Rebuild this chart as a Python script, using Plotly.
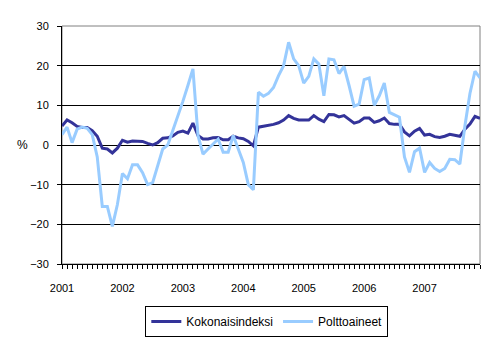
import plotly.graph_objects as go

# Monthly annual change (%), January 2001 - December 2007
years = ["2001", "2002", "2003", "2004", "2005", "2006", "2007"]

kokonaisindeksi = [
    4.8, 6.3, 5.6, 4.7, 4.4, 4.4, 3.6, 2.2, -0.8, -1.0, -2.0, -0.8,
    1.2, 0.7, 1.0, 1.0, 0.9, 0.4, 0.0, 0.6, 1.7, 1.8, 2.3, 3.2,
    3.5, 3.0, 5.5, 2.4, 1.5, 1.5, 1.8, 1.9, 1.3, 1.3, 2.2, 1.8,
    1.6, 0.9, -0.2, 4.5, 4.7, 4.9, 5.2, 5.6, 6.3, 7.4, 6.7, 6.3,
    6.3, 6.3, 7.4, 6.5, 5.9, 7.7, 7.6, 7.1, 7.4, 6.4, 5.5, 5.9,
    6.8, 6.8, 5.7, 6.1, 6.8, 5.4, 5.2, 5.2, 3.3, 2.3, 3.5, 4.2,
    2.5, 2.7, 2.1, 1.9, 2.2, 2.7, 2.5, 2.2, 4.0, 5.3, 7.2, 6.7,
]

polttoaineet = [
    2.6, 4.5, 0.6, 4.0, 4.5, 4.2, 2.6, -3.0, -15.5, -15.5, -20.5, -15.0,
    -7.2, -8.5, -5.0, -5.0, -7.0, -10.0, -9.5, -5.0, -1.0, 0.0, 3.5, 7.0,
    11.0, 15.0, 19.2, 2.4, -2.3, -1.0, 0.3, 1.5, -1.8, -1.8, 2.4, -1.0,
    -4.4, -10.0, -11.3, 13.3, 12.3, 13.0, 14.5, 17.5, 20.0, 25.9, 21.7, 20.0,
    15.6, 17.3, 21.7, 20.4, 12.4, 21.7, 21.5, 18.0, 19.8, 15.0, 9.8, 10.3,
    16.5, 16.9, 10.0, 12.4, 15.6, 8.2, 7.6, 7.0, -3.0, -6.9, -1.7, -0.8,
    -6.9, -4.4, -5.9, -6.7, -5.9, -3.6, -3.7, -4.8, 4.8, 13.0, 18.6, 16.9,
]

months = list(range(len(kokonaisindeksi)))
year_ticks = [12 * k for k in range(len(years))]

font = "Liberation Sans, Arial, sans-serif"

fig = go.Figure()
fig.add_trace(go.Scatter(
    x=months, y=kokonaisindeksi, mode="lines", name="Kokonaisindeksi",
    line=dict(color="#333399", width=3),
))
fig.add_trace(go.Scatter(
    x=months, y=polttoaineet, mode="lines", name="Polttoaineet",
    line=dict(color="#99CCFF", width=3),
))

# grey frame on top/right of the plot area
fig.add_shape(type="rect", xref="paper", yref="paper", x0=0, y0=0, x1=1, y1=1,
              line=dict(color="#808080", width=1), layer="below")

fig.update_layout(
    width=495, height=338,
    margin=dict(l=62, r=15, t=26, b=74, autoexpand=False),
    paper_bgcolor="white", plot_bgcolor="white",
    font=dict(family=font, size=11, color="black"),
    showlegend=True,
    legend=dict(
        orientation="h", x=0.49, xanchor="center",
        yref="container", y=0.095, yanchor="top",
        bordercolor="black", borderwidth=1, font=dict(size=12),
        itemwidth=30, tracegroupgap=0,
    ),
    annotations=[dict(
        text="%", xref="paper", yref="y", x=-0.095, y=0, xanchor="center",
        yanchor="middle", showarrow=False, font=dict(size=12),
    )],
)

fig.update_xaxes(
    range=[0, len(months) - 1], automargin=False,
    tickmode="array", tickvals=year_ticks, ticktext=years,
    ticks="outside", ticklen=4, tickcolor="black", ticklabelstandoff=10,
    minor=dict(dtick=1, tick0=0, ticks="outside", ticklen=4, tickcolor="black", showgrid=False),
    showline=True, linecolor="black", linewidth=1,
    showgrid=False, zeroline=False, tickfont=dict(size=11),
)
fig.update_yaxes(
    range=[-30, 30], dtick=10, tick0=-30, automargin=False,
    ticks="outside", ticklen=4, tickcolor="black", ticklabelstandoff=6,
    showline=True, linecolor="black", linewidth=1,
    showgrid=True, gridcolor="black", gridwidth=1,
    zeroline=True, zerolinecolor="black", zerolinewidth=1,
    tickfont=dict(size=11),
)

fig.write_html("out.html")
